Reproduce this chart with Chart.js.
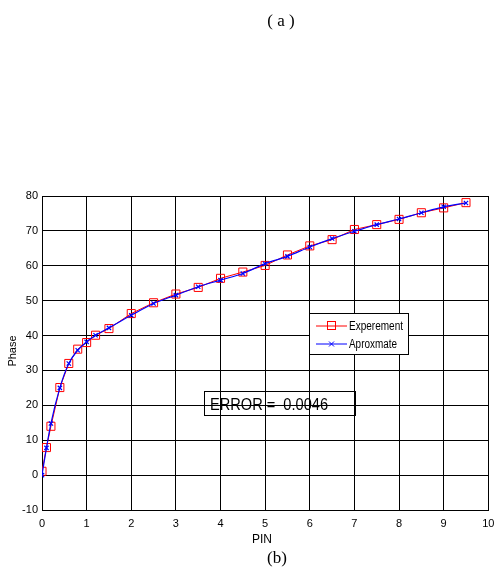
<!DOCTYPE html>
<html>
<head>
<meta charset="utf-8">
<script src="https://cdn.jsdelivr.net/npm/chart.js@4/dist/chart.umd.min.js"></script>
<style>
html,body{margin:0;padding:0;background:#fff;}
#wrap{width:495px;height:579px;position:relative;}
</style>
</head>
<body>
<div id="wrap"><canvas id="c" width="495" height="579"></canvas></div>
<script>
const pinValues = [0,0.1,0.2,0.4,0.6,0.8,1,1.2,1.5,2,2.5,3,3.5,4,4.5,5,5.5,6,6.5,7,7.5,8,8.5,9,9.5];
const experementPhase = [1.1,7.9,14.0,25.1,32.0,36.1,38.0,40.1,42.0,46.3,49.4,51.9,53.8,56.4,58.2,60.1,63.1,65.7,67.5,70.4,71.8,73.3,75.2,76.6,78.1];
const aproxmatePhase = [0,7.8,14.8,25.0,32.0,35.8,38.2,40.1,42.2,45.8,49.2,51.6,54.0,55.9,57.8,60.6,62.7,65.4,67.8,69.9,71.8,73.4,75.2,76.9,78.0];
const seriesNames = ["Experement","Aproxmate"];
const topCaption = "( a )";
const bottomCaption = "(b)";
const xTitle = "PIN";
const yTitle = "Phase";
const errorText = "ERROR =  0.0046";

const toPts = (xs, ys) => xs.map((x,i)=>({x:x,y:ys[i]}));

const textPlugin = {
  id:'texts',
  afterDraw(chart){
    const ctx = chart.ctx;
    ctx.save();
    ctx.fillStyle = '#000';
    // captions
    ctx.font = '17px "Liberation Serif", serif';
    ctx.textAlign = 'center'; ctx.textBaseline = 'middle';
    ctx.fillText(topCaption, 281, 22);
    ctx.fillText(bottomCaption, 277, 559);
    // axis titles
    ctx.font = '12px "Liberation Sans", Arial, sans-serif';
    ctx.fillText(xTitle, 262, 540, 20);
    ctx.save();
    ctx.translate(13, 351);
    ctx.rotate(-Math.PI/2);
    ctx.font = '11px "Liberation Sans", Arial, sans-serif';
    ctx.fillText(yTitle, 0, 0, 32);
    ctx.restore();
    // error box
    ctx.strokeStyle = '#000'; ctx.lineWidth = 1;
    ctx.strokeRect(204.5, 391.5, 151, 24);
    ctx.font = '16px "Liberation Sans", Arial, sans-serif';
    ctx.textAlign = 'left';
    ctx.fillText(errorText, 210, 406, 118);
    // legend
    ctx.fillStyle = '#fff';
    ctx.fillRect(309.5, 313.5, 99, 41);
    ctx.strokeRect(309.5, 313.5, 99, 41);
    const rows = [{y:326, c:'#ff0000', m:'rect'},{y:344, c:'#0000ff', m:'x'}];
    rows.forEach((r,i)=>{
      ctx.strokeStyle = r.c; ctx.lineWidth = 1;
      ctx.beginPath(); ctx.moveTo(316, r.y); ctx.lineTo(347, r.y); ctx.stroke();
      if (r.m === 'rect') {
        ctx.strokeRect(327.5, r.y-4.5, 8, 8);
      } else {
        ctx.beginPath();
        ctx.moveTo(329, r.y-2.5); ctx.lineTo(334, r.y+2.5);
        ctx.moveTo(334, r.y-2.5); ctx.lineTo(329, r.y+2.5);
        ctx.stroke();
      }
      ctx.fillStyle = '#000';
      ctx.font = '12px "Liberation Sans", Arial, sans-serif';
      ctx.textBaseline = 'middle';
      ctx.fillText(seriesNames[i], 349, r.y+1, i===0?54:48);
    });
    ctx.restore();
  }
};

new Chart(document.getElementById('c'), {
  type:'line',
  data:{
    datasets:[
      {label:seriesNames[0], data:toPts(pinValues, experementPhase), borderColor:'#ff0000', backgroundColor:'rgba(0,0,0,0)', borderWidth:1, pointStyle:'rect', pointRadius:5.7, pointBorderColor:'#ff0000', pointBorderWidth:1, pointBackgroundColor:'rgba(0,0,0,0)', tension:0, order:2},
      {label:seriesNames[1], data:toPts(pinValues, aproxmatePhase), borderColor:'#0000ff', backgroundColor:'rgba(0,0,0,0)', borderWidth:1.2, pointStyle:'crossRot', pointRadius:3, pointBorderColor:'#0000ff', pointBorderWidth:1.2, cubicInterpolationMode:'monotone', order:1}
    ]
  },
  options:{
    responsive:false, animation:false,
    layout:{padding:{left:0,right:5,top:196,bottom:0}},
    plugins:{legend:{display:false}, tooltip:{enabled:false}},
    scales:{
      x:{type:'linear', min:0, max:10,
        ticks:{stepSize:1, color:'#000', font:{family:'"Liberation Sans", Arial, sans-serif', size:11}, padding:7, maxRotation:0},
        grid:{color:'#000', lineWidth:1, drawTicks:false},
        border:{color:'#000', width:1},
        afterFit(s){ s.height = 69; s.paddingLeft = 0; s.paddingRight = 0; }
      },
      y:{type:'linear', min:-10, max:80,
        ticks:{stepSize:10, color:'#000', font:{family:'"Liberation Sans", Arial, sans-serif', size:11}, padding:4},
        grid:{color:'#000', lineWidth:1, drawTicks:false},
        border:{color:'#000', width:1},
        afterFit(s){ s.width = 42; s.paddingTop = 0; s.paddingBottom = 0; }
      }
    }
  },
  plugins:[textPlugin]
});
</script>
</body>
</html>
